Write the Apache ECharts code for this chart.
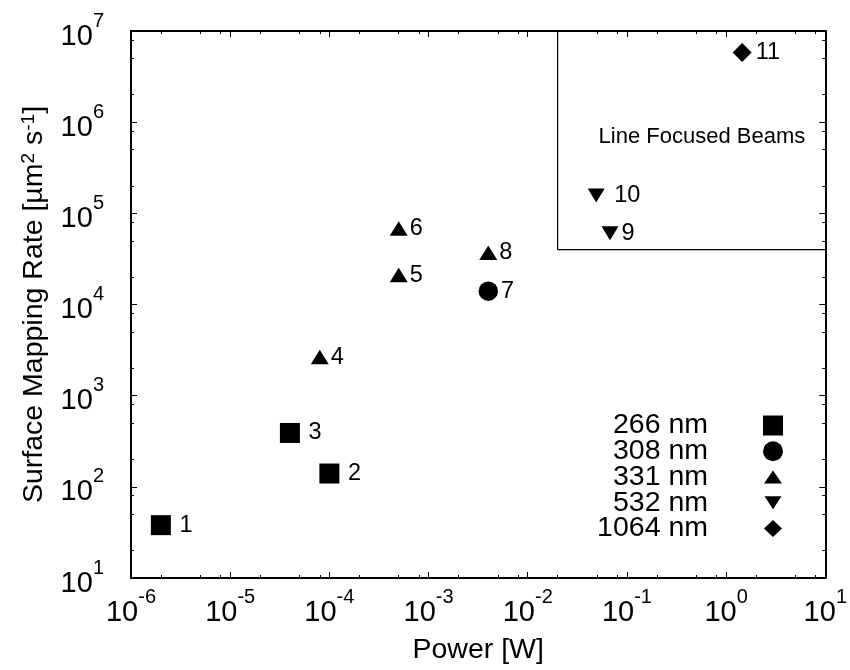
<!DOCTYPE html>
<html><head><meta charset="utf-8">
<script src="https://cdn.jsdelivr.net/npm/echarts@6/dist/echarts.min.js"></script>
<style>html,body{margin:0;padding:0;background:#fff}#c{width:850px;height:670px}</style>
</head><body><div id="c"></div>
<script>
// ---- data ----
const wavelengths = ['266 nm', '308 nm', '331 nm', '532 nm', '1064 nm'];
const power266 = [2e-6, 1e-4, 4e-5];
const rate266 = [38, 140, 390];
const label266 = [' 1', ' 2', ' 3'];
const power308 = [4e-3];
const rate308 = [14000];
const label308 = ['7'];
const power331 = [8e-5, 5e-4, 5e-4, 4e-3];
const rate331 = [2650, 21000, 68000, 37000];
const label331 = ['4', '5', '6', '8'];
const power532 = [0.0675, 0.049];
const rate532 = [60500, 157000];
const label532 = ['9', ' 10'];
const power1064 = [1.45];
const rate1064 = [5.8e6];
const label1064 = ['11'];
const boxPower = [0.02, 0.02, 10];
const boxRate = [1e7, 4e4, 4e4];
const notePower = [0.57];
const noteRate = [6.9e5];
const noteText = ['Line Focused Beams'];
const xExponents = [-6, -5, -4, -3, -2, -1, 0, 1];
const yExponents = [1, 2, 3, 4, 5, 6, 7];
const minorMultipliers = [2, 5, 8];

// ---- build ----
const FONT = 'Liberation Sans, Arial, Helvetica, sans-serif';
function minorTicks(exps) {
  const out = [];
  for (let i = 0; i < exps.length - 1; i++) {
    minorMultipliers.forEach(m => out.push(exps[i] + Math.log10(m)));
  }
  return out;
}
function pts(px, py, names) {
  return px.map((x, i) => ({ value: [x, py[i]], name: names ? names[i] : '' }));
}
const labelRich = {
  a: { fontSize: 29, fontFamily: FONT, color: '#000', verticalAlign: 'bottom', lineHeight: 40 },
  b: { fontSize: 20, fontFamily: FONT, color: '#000', verticalAlign: 'top', lineHeight: 22 }
};
const supFmt = v => '{a|10}{b|' + v + '}';
const lineStyle = { color: '#000', width: 2 };

function decoX(position, minor, extra) {
  return Object.assign({
    type: 'value', gridIndex: 0, position: position,
    min: xExponents[0], max: xExponents[xExponents.length - 1], interval: 1,
    axisLine: { show: !minor, onZero: false, lineStyle: lineStyle },
    axisTick: minor ? { show: true, inside: true, length: 3, lineStyle: { color: '#000', width: 1 }, customValues: minorTicks(xExponents) }
                    : { show: true, inside: true, length: 6, lineStyle: { color: '#000', width: 1 } },
    axisLabel: { show: false },
    splitLine: { show: false }
  }, extra || {});
}
function decoY(position, minor, extra) {
  return Object.assign({
    type: 'value', gridIndex: 0, position: position,
    min: yExponents[0], max: yExponents[yExponents.length - 1], interval: 1,
    axisLine: { show: !minor, onZero: false, lineStyle: lineStyle },
    axisTick: minor ? { show: true, inside: true, length: 3, lineStyle: { color: '#000', width: 1 }, customValues: minorTicks(yExponents) }
                    : { show: true, inside: true, length: 6, lineStyle: { color: '#000', width: 1 } },
    axisLabel: { show: false },
    splitLine: { show: false }
  }, extra || {});
}

const symbols = [
  { symbol: 'rect', size: 20, rotate: 0, dist: 2, icon: 'rect' },
  { symbol: 'circle', size: 19.5, rotate: 0, dist: 3, icon: 'circle' },
  { symbol: 'triangle', size: [18, 14.5], rotate: 0, dist: 2, icon: 'path://M0,0 M20,20 M1,16.5 L10,3.5 L19,16.5 Z' },
  { symbol: 'triangle', size: [17, 14], rotate: 180, dist: 3, icon: 'path://M0,0 M20,20 M1.5,3.5 L18.5,3.5 L10,16.5 Z' },
  { symbol: 'diamond', size: [19, 19], rotate: 0, dist: 4, icon: 'path://M0,0 M20,20 M10,1.5 L19,10 L10,18.5 L1,10 Z' }
];
const seriesData = [
  pts(power266, rate266, label266),
  pts(power308, rate308, label308),
  pts(power331, rate331, label331),
  pts(power532, rate532, label532),
  pts(power1064, rate1064, label1064)
];

const series = [{
  type: 'line', name: 'box', xAxisIndex: 0, yAxisIndex: 0,
  data: boxPower.map((x, i) => [x, boxRate[i]]),
  symbol: 'none', lineStyle: { color: '#000', width: 1.2 }, silent: true, z: 1
}, {
  type: 'scatter', name: 'note', xAxisIndex: 0, yAxisIndex: 0,
  data: pts(notePower, noteRate, noteText),
  symbolSize: 1, itemStyle: { color: 'rgba(0,0,0,0)', opacity: 1 },
  label: { show: true, position: 'inside', formatter: p => p.name, fontSize: 22, fontFamily: FONT, color: '#000' }
}];
wavelengths.forEach((w, i) => {
  const s = symbols[i];
  series.push({
    type: 'scatter', name: w, xAxisIndex: 0, yAxisIndex: 0,
    data: seriesData[i],
    symbol: s.symbol, symbolSize: s.size, symbolRotate: s.rotate,
    itemStyle: { color: '#000', opacity: 1 },
    label: { show: true, position: 'right', distance: s.dist, formatter: p => p.name,
             fontSize: 23.5, fontFamily: FONT, color: '#000' },
    z: 3
  });
});

const option = {
  animation: false,
  backgroundColor: '#fff',
  grid: { left: 131, right: 24, top: 31, bottom: 90.5 },
  legend: {
    orient: 'vertical', align: 'right', right: 67, top: 411, padding: 0,
    itemWidth: 20, itemHeight: 20, itemGap: -3.25,
    selectedMode: false,
    textStyle: { fontSize: 28.5, fontFamily: FONT, color: '#000', lineHeight: 22, padding: [0, 50, 0, 0] },
    data: wavelengths.map((w, i) => ({ name: w, icon: symbols[i].icon }))
  },
  xAxis: [
    { type: 'log', logBase: 10, min: 1e-6, max: 10, show: false },
    decoX('bottom', false, {
      axisLabel: { show: true, margin: 9, formatter: supFmt, rich: labelRich },
      name: 'Power [W]', nameLocation: 'middle', nameGap: 58,
      nameTextStyle: { fontSize: 28.5, fontFamily: FONT, color: '#000' }
    }),
    decoX('bottom', true),
    decoX('top', false),
    decoX('top', true)
  ],
  yAxis: [
    { type: 'log', logBase: 10, min: 10, max: 1e7, show: false },
    decoY('left', false, {
      axisLabel: { show: true, margin: 27, formatter: supFmt, rich: labelRich },
      name: 'Surface Mapping Rate [µm{s|2} s{s|-1}]', nameLocation: 'middle', nameGap: 82,
      nameTextStyle: { fontSize: 28.5, fontFamily: FONT, color: '#000',
        rich: { s: { fontSize: 19, fontFamily: FONT, color: '#000', verticalAlign: 'top', lineHeight: 30 } } }
    }),
    decoY('left', true),
    decoY('right', false),
    decoY('right', true)
  ],
  series: series
};
echarts.init(document.getElementById('c')).setOption(option);
</script></body></html>
